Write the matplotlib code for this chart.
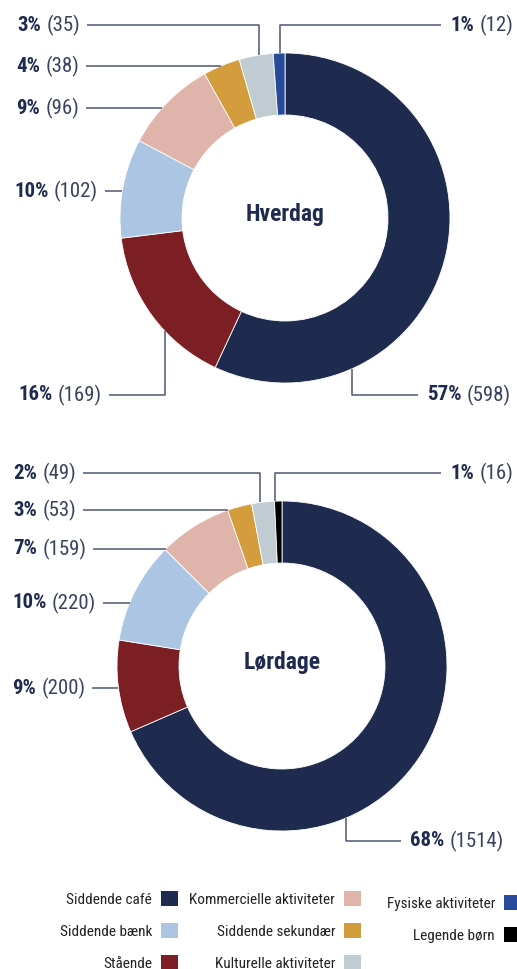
import numpy as np
import matplotlib.pyplot as plt
from matplotlib.patches import Patch
from matplotlib import font_manager as fm

W, H = 517, 969

# data
cats_week = ['Siddende café', 'Stående', 'Siddende bænk', 'Kommercielle aktiviteter',
             'Siddende sekundær', 'Kulturelle aktiviteter', 'Fysiske aktiviteter']
vals_week = [598, 169, 102, 96, 38, 35, 12]
pct_week = [57, 16, 10, 9, 4, 3, 1]

cats_sat = ['Siddende café', 'Stående', 'Siddende bænk', 'Kommercielle aktiviteter',
            'Siddende sekundær', 'Kulturelle aktiviteter', 'Legende børn']
vals_sat = [1514, 200, 220, 159, 53, 49, 16]
pct_sat = [68, 9, 10, 7, 3, 2, 1]

legend_cols = [['Siddende café', 'Siddende bænk', 'Stående'],
               ['Kommercielle aktiviteter', 'Siddende sekundær', 'Kulturelle aktiviteter'],
               ['Fysiske aktiviteter', 'Legende børn']]

COLORS = {
    'Siddende café': '#1f2a4f',
    'Stående': '#7b1f25',
    'Siddende bænk': '#abc5e2',
    'Kommercielle aktiviteter': '#dfb4ab',
    'Siddende sekundær': '#d39c3c',
    'Kulturelle aktiviteter': '#c0cbd2',
    'Fysiske aktiviteter': '#284a9a',
    'Legende børn': '#000000',
}
NAVY = '#1f2a4f'
GREY = '#39425f'
LINE = '#4e5673'

# pick a narrow font if there is one
names = {f.name for f in fm.fontManager.ttflist}
FONT, STRETCH = 'DejaVu Sans', 'condensed'
for fam in ['Liberation Sans Narrow', 'Roboto Condensed']:
    if fam in names:
        FONT, STRETCH = fam, 'normal'
        break
plt.rcParams['font.family'] = [FONT, 'DejaVu Sans']
plt.rcParams['font.stretch'] = STRETCH

R, WIDTH = 165, 62
LABEL_SIZE = 15

fig = plt.figure(figsize=(W / 100, H / 100), dpi=100)
ax = fig.add_axes([0, 0, 1, 1])


def donut(cx, cy, values, cats, title):
    ax.pie(values, colors=[COLORS[c] for c in cats], center=(cx, cy), radius=R,
           startangle=-90, counterclock=True, frame=True,
           wedgeprops=dict(width=WIDTH, edgecolor='white', linewidth=0.6))
    ax.text(cx, cy - 4, title, ha='center', va='center', fontsize=17,
            fontweight='bold', color=NAVY)


donut(285, 218, vals_week, cats_week, 'Hverdag')
donut(282, 666, vals_sat, cats_sat, 'Lørdage')

ax.set_xlim(0, W)
ax.set_ylim(H, 0)
ax.set_aspect('equal')
ax.axis('off')

renderer = fig.canvas.get_renderer()
inv = ax.transData.inverted()


def label(cx, cy, pct, cnt, lx, ly, elbow):
    t = ax.text(lx, ly, f'{pct}%', ha='left', va='center', fontsize=LABEL_SIZE,
                fontweight='bold', color=NAVY)
    c = ax.annotate(f'({cnt})', xy=(1, 0.5), xycoords=t, xytext=(4, 0),
                    textcoords='offset points', ha='left', va='center',
                    fontsize=LABEL_SIZE, color=GREY)
    if elbow is None:
        ax_x = cx - np.sqrt(R ** 2 - (ly - cy) ** 2)
        pts = [(ax_x, ly)]
    else:
        dy = np.sqrt(R ** 2 - (elbow - cx) ** 2)
        ay = cy - dy if ly < cy else cy + dy
        pts = [(elbow, ay), (elbow, ly)]
    if lx < cx:
        x_end = inv.transform(c.get_window_extent(renderer).get_points())[1, 0] + 7
        pts = pts + [(x_end, ly)]
    else:
        pts = pts + [(lx - 9, ly)]
    xs, ys = zip(*pts)
    ax.plot(xs, ys, color=LINE, lw=1.1, solid_capstyle='butt')


# label layout: text x, text y, elbow x (None = straight line)
lab_week = [(427, 395, 352), (18, 395, 165), (14, 191, None), (16, 108, None),
            (16, 66, None), (17, 25, 259), (450, 25, 280)]
lab_sat = [(410, 841, 346), (12, 688, None), (12, 603, None), (13, 549, None),
           (13, 510, None), (13, 473, 260), (450, 473, 275)]

for p, v, (lx, ly, el) in zip(pct_week, vals_week, lab_week):
    label(285, 218, p, v, lx, ly, el)
for p, v, (lx, ly, el) in zip(pct_sat, vals_sat, lab_sat):
    label(282, 666, p, v, lx, ly, el)

# legend, three columns with text left of the box
for cols, (x, y) in zip(legend_cols, [(178, 891), (361, 891), (521, 895)]):
    handles = [Patch(facecolor=COLORS[c], edgecolor='none') for c in cols]
    fig.legend(handles, cols, loc='upper right', bbox_to_anchor=(x, y),
               bbox_transform=ax.transData, frameon=False, markerfirst=False,
               handlelength=1.1, handleheight=1.1, handletextpad=0.6,
               labelspacing=1.08, borderpad=0, borderaxespad=0,
               prop=dict(size=11), labelcolor='#222222')

fig.savefig('out.png', dpi=100)
